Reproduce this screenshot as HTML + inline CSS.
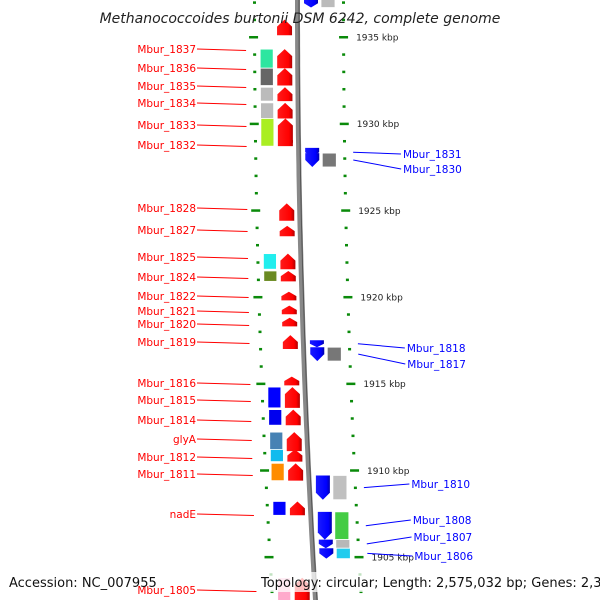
<!DOCTYPE html>
<html><head><meta charset="utf-8"><style>
body{margin:0;background:#fff;width:600px;height:600px;overflow:hidden}
svg{display:block;font-family:"DejaVu Sans","Liberation Sans",sans-serif}
</style></head><body>
<svg id="map" width="600" height="600" viewBox="0 0 600 600">
<defs>
<linearGradient id="gr" x1="0" x2="1"><stop offset="0" stop-color="#ff1a1a"/><stop offset="0.75" stop-color="#ff0000"/><stop offset="1" stop-color="#b00000"/></linearGradient>
<linearGradient id="gb" x1="0" x2="1"><stop offset="0" stop-color="#1a1aff"/><stop offset="0.75" stop-color="#0000ff"/><stop offset="1" stop-color="#0000aa"/></linearGradient>
</defs>
<g id="ticks"></g>
<g id="genes"></g>
<text x="300" y="23" text-anchor="middle" font-size="14" font-style="italic" fill="#222">Methanococcoides burtonii DSM 6242, complete genome</text>
<text x="9" y="587" font-size="13" fill="#111">Accession: NC_007955</text>
<rect x="258" y="572" width="334" height="20" fill="#fff" opacity="0.75"/>
<text x="261" y="587" font-size="13" fill="#111">Topology: circular; Length: 2,575,032 bp; Genes: 2,336</text>
</svg>
<script>
// scale
const majorKbp=[1940,1935,1930,1925,1920,1915,1910,1905,1900];
// forward-strand genes (left labels)
const fwdNames=["","Mbur_1837","Mbur_1836","Mbur_1835","Mbur_1834","Mbur_1833","Mbur_1832","Mbur_1828","Mbur_1827","Mbur_1825","Mbur_1824","Mbur_1822","Mbur_1821","Mbur_1820","Mbur_1819","Mbur_1816","Mbur_1815","Mbur_1814","glyA","Mbur_1812","Mbur_1811","nadE","Mbur_1805"];
const fwdStart=[1936.0,1934.3,1933.2,1932.1,1931.2,1930.3,1929.2,1925.4,1924.1,1922.5,1921.5,1920.3,1919.5,1918.8,1917.8,1915.4,1914.8,1913.5,1912.2,1911.2,1910.4,1908.2,1903.8];
const fwdEnd=[1935.1,1933.2,1932.2,1931.3,1930.3,1928.7,1928.9,1924.4,1923.5,1921.6,1920.9,1919.8,1919.0,1918.3,1917.0,1914.9,1913.6,1912.6,1911.1,1910.5,1909.4,1907.4,1901.8];
const fwdBox=["","#2ee6a0","#666666","#bbbbbb","#bbbbbb","#aaee22","","","","#22eeee","#6b8a22","","","","","","#0000ff","#0000ee","#4682b4","#11bbee","#ff8c00","#0000ff","#ffaacc"];
// reverse-strand genes (right labels)
const revNames=["","Mbur_1831","Mbur_1830","Mbur_1818","Mbur_1817","Mbur_1810","Mbur_1808","Mbur_1807","Mbur_1806"];
const revStart=[1937.2,1928.6,1928.3,1917.5,1917.1,1909.7,1907.6,1906.0,1905.5];
const revEnd=[1936.7,1928.1,1927.5,1917.1,1916.3,1908.3,1906.0,1905.5,1904.9];
const revBox=["#bbbbbb","","#777777","","#777777","#c0c0c0","#44cc44","#b8b8b8","#22ccee"];
const revLabelY=[0,154,169,348,364,484,520,537,556];
const fwdLabelY=[0,49,68,86,103,125,145,208,230,257,277,296,311,324,342,383,400,420,439,457,474,514,590];

const NS="http://www.w3.org/2000/svg";
function yk(k){return 37+(1935-k)*17.33;}
function off(y){return 5e-5*y*y;}
function mk(tag,attrs,parent){const e=document.createElementNS(NS,tag);for(const a in attrs)e.setAttribute(a,attrs[a]);parent.appendChild(e);return e;}
const T=document.getElementById('ticks'),G=document.getElementById('genes');
// backbone
let d="";for(let y=-5;y<=605;y+=10){d+=(y<0?"M":"L")+(297.5+off(y)).toFixed(1)+" "+y;}
const bb=mk('path',{d:d,stroke:'#888',"stroke-width":5,fill:'none'},G);


mk('path',{d:d,stroke:'#555',"stroke-width":1,fill:'none',transform:'translate(1.5,0)'},G);
// ticks
for(let k=1940;k>=1900;k-=1){const y=yk(k);if(y<-5||y>605)continue;const major=majorKbp.includes(k);const o=off(y);
 const l=mk('rect',{x:(major?249:253)+o,y:y-1,width:major?9:3,height:major?2.5:2.5,fill:'#0a8a0a'},T);
 
 
 const r=mk('rect',{x:(major?339:342)+o,y:y-1,width:major?9:3,height:2.5,fill:'#0a8a0a'},T);
 
 
 if(major){const t=mk('text',{x:356+o,y:y+3.5,"font-size":9,fill:'#222'},T);t.textContent=k+" kbp";
 
 }
}
function arrowUp(x,y1,y2,w,fill){const h=Math.min(7,(y2-y1)*0.5);return mk('polygon',{points:`${x},${y1+h} ${x+w/2},${y1} ${x+w},${y1+h} ${x+w},${y2} ${x},${y2}`,fill:fill},G);}
function arrowDown(x,y1,y2,w,fill){const h=Math.min(7,(y2-y1)*0.5);return mk('polygon',{points:`${x},${y1} ${x+w},${y1} ${x+w},${y2-h} ${x+w/2},${y2} ${x},${y2-h}`,fill:fill},G);}
fwdNames.forEach((n,i)=>{const y1=yk(fwdStart[i]),y2=yk(fwdEnd[i]);const ym=(y1+y2)/2,o=off(ym);
 if(fwdBox[i]){const b=mk('rect',{x:260+o,y:y1,width:13,height:y2-y1,fill:fwdBox[i],stroke:'#fff',"stroke-width":0.8},G);
  
  }
 const a=arrowUp(277+o,y1,y2,15,'url(#gr)');
 
 
 if(n){const ly=fwdLabelY[i];const t=mk('text',{x:196,y:ly+4,"text-anchor":"end","font-size":10.5,fill:'#f00'},G);t.textContent=n;
  
  
  const ln=mk('line',{x1:197,y1:ly,x2:246+off(ly)*0.6,y2:ly+1.5,stroke:'#f00',"stroke-width":1},G);
  
  }
});
revNames.forEach((n,i)=>{const y1=yk(revStart[i]),y2=yk(revEnd[i]);const ym=(y1+y2)/2,o=off(ym);
 const a=arrowDown(304+o,y1,y2,14,'url(#gb)');
 
 
 if(revBox[i]){const b=mk('rect',{x:321+o,y:y1,width:14,height:y2-y1,fill:revBox[i],stroke:'#fff',"stroke-width":0.8},G);
  
  }
 if(n){const ly=revLabelY[i];const t=mk('text',{x:402+off(ly)*0.8,y:ly+4,"font-size":10.5,fill:'#00f'},G);t.textContent=n;
  
  
  const ln=mk('line',{x1:352+o,y1:ym,x2:400+off(ly)*0.8,y2:ly,stroke:'#00f',"stroke-width":1},G);
  
  }
});
</script>
</body></html>
